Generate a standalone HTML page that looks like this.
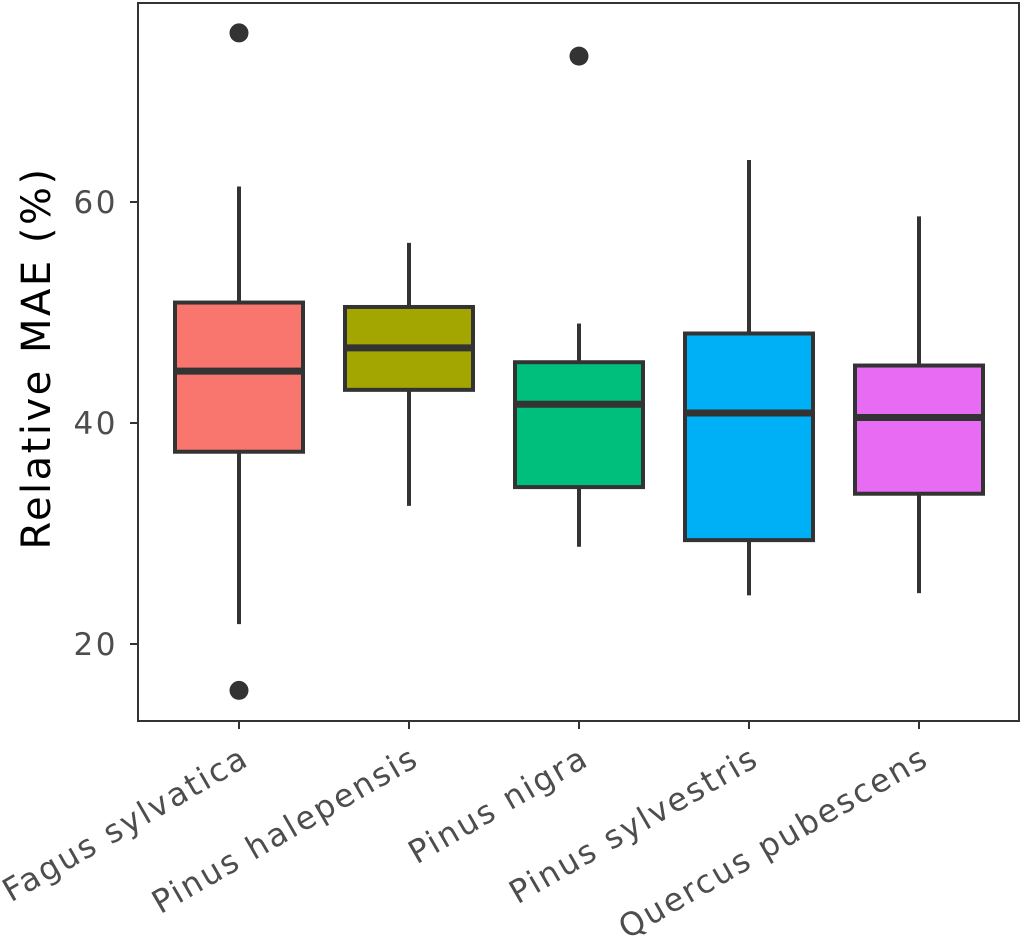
<!DOCTYPE html>
<html><head><meta charset="utf-8"><style>body{margin:0;background:#fff}svg{display:block}</style></head>
<body>
<svg id="chart" width="1022" height="941" xmlns="http://www.w3.org/2000/svg" font-family="'DejaVu Sans','Liberation Sans',sans-serif">
<rect x="138" y="3" width="881" height="718" fill="#fff" stroke="#333" stroke-width="2"/>
<g id="marks"></g>
<g id="axes"></g>
<text transform="translate(50,358) rotate(-90)" text-anchor="middle" font-size="40" letter-spacing="2.5" fill="#000">Relative MAE (%)</text>
</svg>
<script>
const categories=["Fagus sylvatica","Pinus halepensis","Pinus nigra","Pinus sylvestris","Quercus pubescens"];
const whiskerLow=[21.8,32.5,28.8,24.4,24.6];
const q1=[37.4,43.0,34.2,29.4,33.6];
const medians=[44.7,46.8,41.7,40.9,40.5];
const q3=[50.9,50.5,45.5,48.1,45.2];
const whiskerHigh=[61.4,56.3,49.0,63.8,58.7];
const outliers=[[75.3,15.8],[],[73.2],[],[]];
const colors=["#F8766D","#A3A500","#00BF7D","#00B0F6","#E76BF3"];
const yTicks=[20,40,60];
const NS="http://www.w3.org/2000/svg";
const y=v=>423-(v-40)*11.05;
const x=i=>239+i*170;
const bw=128;
const marks=document.getElementById('marks'),axes=document.getElementById('axes');
function mk(p,tag,a){const e=document.createElementNS(NS,tag);for(const k in a)e.setAttribute(k,a[k]);p.appendChild(e);return e;}
categories.forEach((c,i)=>{
 const g=mk(marks,'g',{});
 
 
 const s={stroke:'#333','stroke-width':4};
 mk(g,'line',Object.assign({x1:x(i),x2:x(i),y1:y(whiskerHigh[i]),y2:y(q3[i])},s));
 mk(g,'line',Object.assign({x1:x(i),x2:x(i),y1:y(q1[i]),y2:y(whiskerLow[i])},s));
 mk(g,'rect',Object.assign({x:x(i)-bw/2,y:y(q3[i]),width:bw,height:y(q1[i])-y(q3[i]),fill:colors[i]},s));
 mk(g,'line',{x1:x(i)-bw/2,x2:x(i)+bw/2,y1:y(medians[i]),y2:y(medians[i]),stroke:'#333','stroke-width':7});
 outliers[i].forEach(o=>{const d=mk(g,'circle',{cx:x(i),cy:y(o),r:9.5,fill:'#333'});
  
  });
 mk(axes,'line',{x1:x(i),x2:x(i),y1:721,y2:729,stroke:'#333','stroke-width':2});
 const t=mk(axes,'text',{transform:`translate(${x(i)+12},${764}) rotate(-30)`,'text-anchor':'end','font-size':32,'letter-spacing':2.2,fill:'#4d4d4d'});
 t.textContent=c;
 
 
});
yTicks.forEach(v=>{
 mk(axes,'line',{x1:130,x2:138,y1:y(v),y2:y(v),stroke:'#333','stroke-width':2});
 const t=mk(axes,'text',{x:118,y:y(v)+11,'text-anchor':'end','font-size':31,'letter-spacing':2.5,fill:'#4d4d4d'});
 t.textContent=v;
 
 
});
</script>
</body></html>
